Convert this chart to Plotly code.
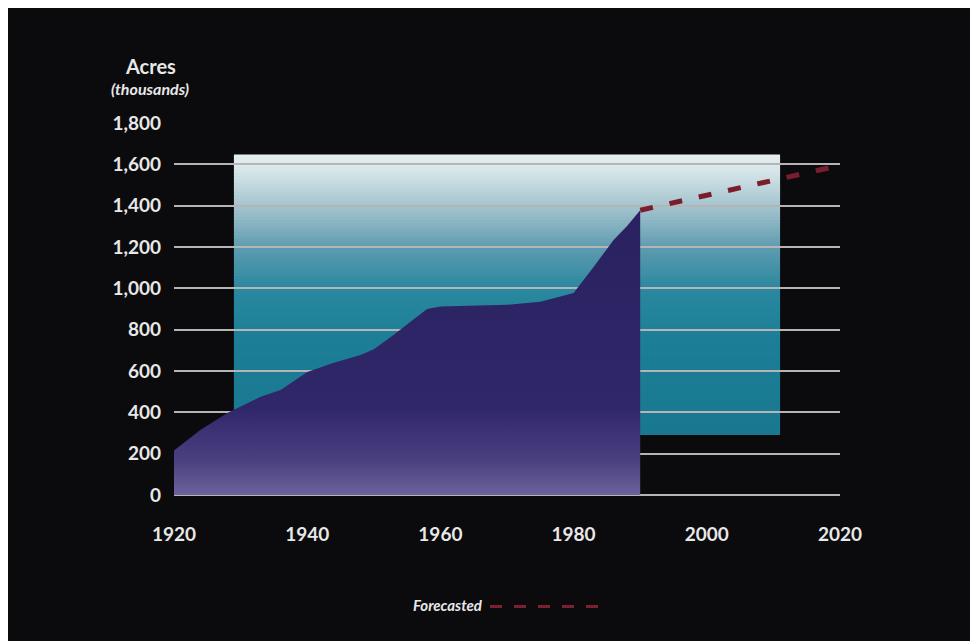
import plotly.graph_objects as go

# ---- data ----
years = [1920, 1924, 1928, 1933, 1936, 1940, 1944, 1948, 1950, 1953, 1956, 1958,
         1960, 1965, 1970, 1975, 1978, 1980, 1983, 1986, 1988, 1990]
acres = [215, 315, 396, 475, 508, 595, 640, 677, 705, 775, 850, 900,
         912, 915, 920, 935, 958, 977, 1103, 1234, 1300, 1378]

forecast_years = [1990, 2020]
forecast_acres = [1378, 1595]

x_ticks = [1920, 1940, 1960, 1980, 2000, 2020]
y_ticks = [0, 200, 400, 600, 800, 1000, 1200, 1400, 1600, 1800]
y_ticklabels = ["0", "200", "400", "600", "800", "1,000", "1,200", "1,400", "1,600", "1,800"]

# decorative backdrop panel (data coordinates)
panel_x = [1929, 2011]
panel_y = [290, 1648]
panel_stops = [(0.0, "#19788f"), (0.35, "#1c7f97"), (0.52, "#2a889f"),
               (0.66, "#5a9aae"), (0.80, "#9ec0cb"), (0.93, "#d2e3e7"), (1.0, "#e8efef")]

FONT = "Lato"
TXT = "#e8e8e8"


def hex2rgb(h):
    h = h.lstrip("#")
    return [int(h[i:i + 2], 16) for i in (0, 2, 4)]


def interp_color(t):
    for (p0, c0), (p1, c1) in zip(panel_stops[:-1], panel_stops[1:]):
        if p0 <= t <= p1:
            f = (t - p0) / (p1 - p0) if p1 > p0 else 0
            a, b = hex2rgb(c0), hex2rgb(c1)
            r = [round(a[i] + (b[i] - a[i]) * f) for i in range(3)]
            return "rgb(%d,%d,%d)" % tuple(r)
    return panel_stops[-1][1]


shapes = []
n = 90
h = (panel_y[1] - panel_y[0]) / n
for i in range(n):
    y0 = panel_y[0] + i * h
    shapes.append(dict(type="rect", xref="x", yref="y", layer="below",
                       x0=panel_x[0], x1=panel_x[1], y0=y0, y1=min(y0 + h * 1.6, panel_y[1]),
                       fillcolor=interp_color((i + 0.5) / n), line=dict(width=0)))

# legend sample
shapes.append(dict(type="line", xref="paper", yref="paper", layer="above",
                   x0=(490 - 174) / 666, x1=(600 - 174) / 666,
                   y0=(495 - 604) / 372, y1=(495 - 604) / 372,
                   line=dict(color="#7d2033", width=3, dash="12px,12px")))

fig = go.Figure()
fig.add_trace(go.Scatter(
    x=years, y=acres, mode="lines", fill="tozeroy",
    line=dict(width=0, color="#2c2360"),
    fillgradient=dict(type="vertical", start=0, stop=1400,
                      colorscale=[[0, "#6c629c"], [0.12, "#4a4080"], [0.3, "#30276a"],
                                  [1, "#2a2160"]]),
    hoverinfo="skip", showlegend=False))
fig.add_trace(go.Scatter(
    x=forecast_years, y=forecast_acres, mode="lines",
    line=dict(color="#7a1e2e", width=5, dash="13px,17px"),
    cliponaxis=False, showlegend=False))

# the page body has an 8px margin: size the figure so the plot area lands
# on the reference pixels (x 174..840, y 123..497)
fig.update_layout(
    width=970, height=633,
    margin=dict(l=166, r=138, t=115, b=144),
    paper_bgcolor="#0b0b0e", plot_bgcolor="#0b0b0e",
    showlegend=False,
    shapes=shapes,
    font=dict(family=FONT, color=TXT),
    xaxis=dict(range=[1920, 2020], tickvals=x_ticks, showgrid=False, zeroline=False,
               showline=False, ticks="", ticklabelstandoff=24,
               tickfont=dict(family=FONT, size=19, color=TXT, weight="bold")),
    yaxis=dict(range=[-10, 1800], tickvals=y_ticks, ticktext=y_ticklabels,
               showgrid=True, gridcolor="#b5b5b5", gridwidth=1.5, zeroline=False,
               showline=False, ticks="", ticklabelstandoff=12,
               tickfont=dict(family=FONT, size=19, color=TXT, weight="bold")),
    annotations=[
        dict(text="<b>Acres</b>", xref="paper", yref="paper", x=(150 - 174) / 666,
             y=(497 - 66) / 374, showarrow=False, xanchor="center", yanchor="middle",
             font=dict(family=FONT, size=20, color=TXT)),
        dict(text="<b><i>(thousands)</i></b>", xref="paper", yref="paper", x=(150 - 174) / 666,
             y=(497 - 88) / 374, showarrow=False, xanchor="center", yanchor="middle",
             font=dict(family=FONT, size=16, color=TXT)),
        dict(text="<b><i>Forecasted</i></b>", xref="paper", yref="paper", x=(448 - 174) / 666,
             y=(497 - 605) / 374, showarrow=False, xanchor="center", yanchor="middle",
             font=dict(family=FONT, size=15, color=TXT)),
    ],
)

fig.write_html("out.html")
